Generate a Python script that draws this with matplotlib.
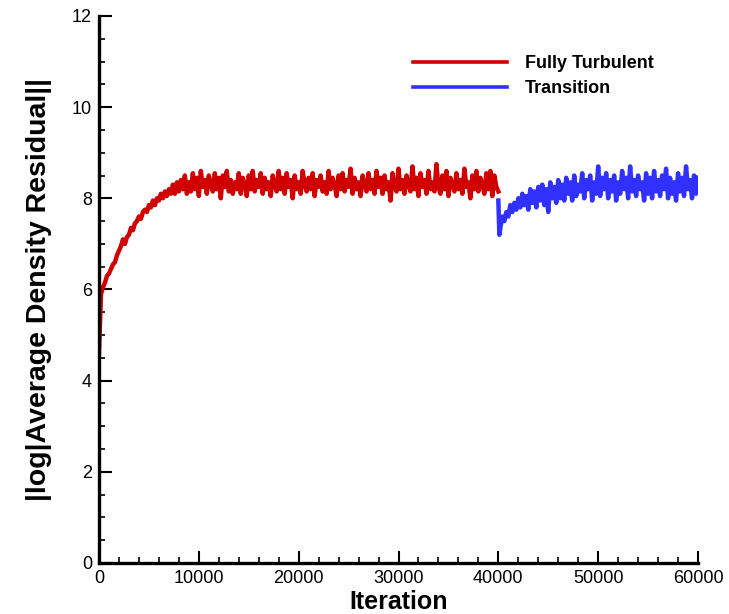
import numpy as np
import matplotlib
matplotlib.use('Agg')
import matplotlib.pyplot as plt
from matplotlib.ticker import MultipleLocator

# Fully turbulent run: sampled every 200 iterations, 0..40000
turb_iter = np.arange(0, 40001, 200)
turb_res = [
    4.6, 5.9, 6.05, 6.15, 6.3, 6.35, 6.45, 6.55, 6.6, 6.75,
    6.85, 6.95, 7.1, 7.0, 7.15, 7.2, 7.35, 7.3, 7.45, 7.5,
    7.6, 7.55, 7.7, 7.75, 7.7, 7.85, 7.8, 7.95, 7.85, 8.0,
    7.95, 8.1, 8.0, 8.15, 8.05, 8.2, 8.1, 8.3, 8.1, 8.35,
    8.15,
    8.4, 8.2, 8.5, 8.1, 8.35, 8.15, 8.55, 8.2, 8.45, 8.05,
    8.6, 8.25, 8.4, 8.1, 8.5, 8.3, 8.15, 8.55, 8.2, 8.45,
    8.0, 8.5, 8.25, 8.6, 8.15, 8.4, 8.1, 8.35, 8.2, 8.55,
    8.1, 8.45, 8.3, 8.05, 8.5, 8.2, 8.6, 8.15, 8.4, 8.25,
    8.55, 8.1, 8.45, 8.2, 8.35, 8.05, 8.5, 8.3, 8.15, 8.6,
    8.2, 8.45, 8.1, 8.55, 8.25, 8.4, 8.0, 8.5, 8.2, 8.35,
    8.1, 8.6, 8.3, 8.15, 8.45, 8.2, 8.55, 8.05, 8.4, 8.25,
    8.5, 8.15, 8.35, 8.1, 8.6, 8.2, 8.45, 8.3, 8.05, 8.5,
    8.2, 8.55, 8.15, 8.4, 8.25, 8.65, 8.1, 8.45, 8.2, 8.35,
    8.05, 8.5, 8.3, 8.15, 8.55, 8.2, 8.4, 8.1, 8.6, 8.25,
    8.45, 8.1, 8.5, 8.2, 8.35, 7.95, 8.55, 8.25, 8.15, 8.65,
    8.2, 8.4, 8.1, 8.5, 8.3, 8.15, 8.7, 8.2, 8.45, 8.05,
    8.55, 8.25, 8.4, 8.1, 8.6, 8.2, 8.35, 8.15, 8.75, 8.25,
    8.1, 8.5, 8.2, 8.6, 8.05, 8.45, 8.3, 8.15, 8.55, 8.2,
    8.4, 8.1, 8.65, 8.25, 8.35, 8.0, 8.5, 8.2, 8.6, 8.15,
    8.45, 8.3, 8.1, 8.55, 8.2, 8.6, 8.05, 8.5, 8.25, 8.15,
]

# Transition run restarted from 40000
trans_iter = np.concatenate([[40000, 40100], np.arange(40200, 60001, 200)])
trans_res = [
    7.95, 7.2,
    7.35, 7.6, 7.5, 7.7, 7.6, 7.85, 7.7, 7.9, 7.75, 8.0,
    7.8, 8.1, 7.85, 8.05, 7.75, 8.2, 7.9, 8.15, 7.8, 8.25,
    7.95, 8.3, 7.85, 8.2, 7.7, 8.35, 8.0, 8.25, 7.9, 8.4,
    8.0, 8.3, 7.95, 8.45, 8.1, 8.35, 7.95, 8.5, 8.05, 8.3,
    8.15, 8.55, 8.0, 8.4, 8.2, 8.5, 7.95, 8.35, 8.1, 8.7,
    8.05, 8.45, 8.2, 8.55, 8.0, 8.4, 8.15, 8.5, 7.95, 8.35,
    8.1, 8.6, 8.2, 8.45, 8.0, 8.7, 8.15, 8.4, 8.05, 8.5,
    8.2, 8.35, 7.95, 8.55, 8.1, 8.45, 8.0, 8.6, 8.15, 8.4,
    8.05, 8.5, 8.2, 8.65, 8.0, 8.45, 8.1, 8.35, 7.95, 8.55,
    8.15, 8.45, 8.05, 8.7, 8.2, 8.4, 8.0, 8.5, 8.1, 8.45,
]

x_ticks = [0, 10000, 20000, 30000, 40000, 50000, 60000]
y_ticks = [0, 2, 4, 6, 8, 10, 12]

plt.rcParams['font.family'] = ['Liberation Sans', 'DejaVu Sans']

fig = plt.figure(figsize=(7.29, 6.14), dpi=100)
ax = fig.add_axes([0.1358, 0.0831, 0.8217, 0.8909])

ax.plot(turb_iter, turb_res, color='#d00000', lw=3.2, label='Fully Turbulent')
ax.plot(trans_iter, trans_res, color='#3030ff', lw=3.2, label='Transition')

ax.set_xlim(0, 60000)
ax.set_ylim(0, 12)
ax.set_xticks(x_ticks)
ax.set_yticks(y_ticks)
ax.xaxis.set_minor_locator(MultipleLocator(2000))
ax.yaxis.set_minor_locator(MultipleLocator(0.5))

for side in ['top', 'right']:
    ax.spines[side].set_visible(False)
for side in ['left', 'bottom']:
    ax.spines[side].set_linewidth(2.4)

ax.tick_params(which='major', direction='in', length=9, width=1.5, labelsize=13, pad=5)
ax.tick_params(which='minor', direction='in', length=4.5, width=1.2)

ax.set_xlabel('Iteration', fontsize=18, fontweight='bold', labelpad=2)
ax.set_ylabel('|log|Average Density Residual||', fontsize=20.5, fontweight='bold', labelpad=14)

leg = ax.legend(loc='upper right', bbox_to_anchor=(0.953, 0.958), frameon=False,
                prop={'size': 13, 'weight': 'bold'}, handlelength=5.2, handletextpad=1.0,
                labelspacing=0.45)
for line in leg.get_lines():
    line.set_linewidth(2.6)

fig.savefig('out.png', dpi=100)
